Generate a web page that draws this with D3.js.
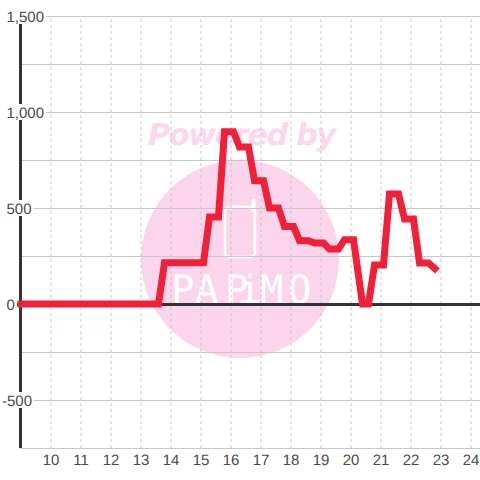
<!DOCTYPE html>
<html>
<head>
<meta charset="utf-8">
<script src="https://cdn.jsdelivr.net/npm/d3@7"></script>
<style>
  html, body { margin: 0; padding: 0; background: #fff; }
  svg { display: block; text-rendering: geometricPrecision; }
</style>
</head>
<body>
<svg id="chart"></svg>
<script>
// hour of day and value
const hours = [8.9, 13.6, 13.8, 15.1, 15.3, 15.6, 15.8, 16.1, 16.3, 16.6, 16.8, 17.1, 17.3, 17.6, 17.8,
  18.1, 18.3, 18.6, 18.8, 19.1, 19.3, 19.6, 19.8, 20.1, 20.4, 20.6, 20.8, 21.1, 21.3, 21.6, 21.8, 22.1, 22.3, 22.6, 22.9];
const values = [0, 0, 215, 215, 453, 453, 897, 897, 818, 818, 642, 642, 500, 500, 403,
  403, 330, 330, 318, 318, 286, 286, 335, 335, 0, 0, 203, 203, 573, 573, 443, 443, 214, 214, 172];

const xTicks = [10, 11, 12, 13, 14, 15, 16, 17, 18, 19, 20, 21, 22, 23, 24];
const yTicks = [-750, -500, -250, 0, 250, 500, 750, 1000, 1250, 1500];
const yLabels = [-500, 0, 500, 1000, 1500];

const size = 480;
const xScale = d3.scaleLinear().domain([9, 24]).range([20.5, 470.5]);
const yScale = d3.scaleLinear().domain([-750, 1500]).range([448, 16]);

const svg = d3.select('#chart').attr('width', size).attr('height', size);

// Watermark goes under everything else
const mark = svg.append('g');
mark.append('circle').attr('cx', 240).attr('cy', 259).attr('r', 99).attr('fill', '#fbd5ec');
mark.append('text')
  .attr('x', 148).attr('y', 145)
  .attr('textLength', 188)
  .style('font', 'italic bold 30px "DejaVu Sans"')
  .attr('fill', '#fcd8ee')
  .text('Powered by');
mark.append('rect')
  .attr('x', 225).attr('y', 207).attr('width', 30).attr('height', 50).attr('rx', 5)
  .attr('fill', 'none').attr('stroke', '#fff').attr('stroke-width', 2.5);
mark.append('line')
  .attr('x1', 253.5).attr('x2', 253.5).attr('y1', 201).attr('y2', 210)
  .attr('stroke', '#fff').attr('stroke-width', 4).attr('stroke-linecap', 'round');
mark.append('text')
  .attr('x', '171 195 225 238 260 288').attr('y', 303)
  .style('font', '39px "DejaVu Sans Mono"')
  .attr('fill', '#fff')
  .text('PAPiMO');

// Vertical dashed grid and x labels
const xAxis = svg.append('g')
  .attr('transform', 'translate(0,448)')
  .call(d3.axisBottom(xScale).tickValues(xTicks).tickSize(-432).tickSizeOuter(0).tickPadding(6).tickFormat(d3.format('d')));
xAxis.select('.domain').remove();
xAxis.selectAll('line').attr('stroke', '#c8c8c8').attr('stroke-dasharray', '3,3');
xAxis.selectAll('text')
  .attr('fill', '#4a4a4a')
  .style('font', '15px "Liberation Sans"');

// Horizontal grid
const yAxis = svg.append('g')
  .attr('transform', 'translate(20.5,0)')
  .call(d3.axisLeft(yScale).tickValues(yTicks).tickSize(-460).tickSizeOuter(0).tickFormat(''));
yAxis.select('.domain').remove();
yAxis.selectAll('line').attr('stroke', '#c8c8c8');

// Zero line and left axis
svg.append('line')
  .attr('x1', 17).attr('x2', size)
  .attr('y1', yScale(0) + 0.5).attr('y2', yScale(0) + 0.5)
  .attr('stroke', '#333').attr('stroke-width', 3);
svg.append('line')
  .attr('x1', 20.5).attr('x2', 20.5)
  .attr('y1', yScale(1500)).attr('y2', yScale(-750))
  .attr('stroke', '#333').attr('stroke-width', 3);

// Y labels sit on a white box that breaks the axis line
const fmt = d3.format(',');
yLabels.forEach(v => {
  const label = svg.append('text')
    .attr('x', v < 0 ? 2 : 6.5)
    .attr('y', yScale(v) + 5.5)
    .attr('fill', '#4a4a4a')
    .style('font', '15px "Liberation Sans"')
    .text(fmt(v).replace('\u2212', '-'));
  const box = label.node().getBBox();
  svg.insert('rect', () => label.node())
    .attr('x', 0).attr('y', yScale(v) - 8)
    .attr('width', box.x + box.width + 2).attr('height', 16)
    .attr('fill', '#fff');
});

// Data line
const line = d3.line()
  .x((d, i) => xScale(hours[i]))
  .y(d => yScale(d));

svg.append('path')
  .datum(values)
  .attr('fill', 'none')
  .attr('stroke', '#ef2038')
  .attr('stroke-width', 7)
  .attr('stroke-linejoin', 'miter')
  .attr('d', line);
</script>
</body>
</html>
